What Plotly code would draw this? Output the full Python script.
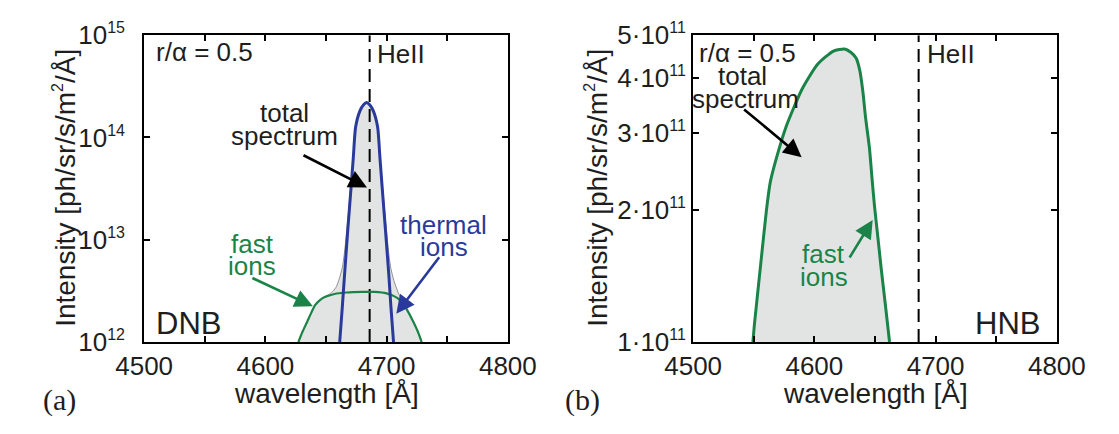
import plotly.graph_objects as go

# ---------------- data ----------------
# Panel (a) DNB
thermal_wl = [4661.3, 4663.5, 4665.3, 4668.0, 4670.6, 4672.5, 4674.4, 4678.0, 4681.0,
              4683.5, 4686.0, 4689.0, 4692.6, 4694.5, 4696.4, 4699.0, 4701.8, 4703.5, 4705.7]
thermal_I = [1.0e12, 2.24e12, 4.57e12, 1.26e13, 3.16e13, 6.3e13, 1.26e14, 1.82e14, 2.09e14,
             2.19e14, 2.09e14, 1.82e14, 1.26e14, 6.3e13, 3.16e13, 1.26e13, 4.57e12, 2.24e12, 1.0e12]

fast_wl = [4627.2, 4630.6, 4634.5, 4638.0, 4641.0, 4645.0, 4649.0, 4657.0, 4667.0,
           4680.0, 4690.0, 4700.0, 4709.0, 4714.0, 4718.0, 4722.0, 4725.8, 4728.9]
fast_I = [1.0e12, 1.26e12, 1.58e12, 1.95e12, 2.29e12, 2.57e12, 2.75e12, 2.95e12, 3.05e12,
          3.09e12, 3.09e12, 2.99e12, 2.69e12, 2.34e12, 1.95e12, 1.58e12, 1.26e12, 1.0e12]

total_wl = [4627.2, 4630.6, 4634.5, 4638.0, 4641.0, 4645.0, 4649.0, 4653.0, 4656.0, 4658.5,
            4661.0, 4663.5, 4665.3, 4668.0, 4670.6, 4672.5, 4674.4, 4678.0, 4681.0, 4683.5,
            4686.0, 4689.0, 4692.6, 4694.5, 4696.4, 4699.0, 4701.8, 4703.5, 4706.0, 4709.0,
            4712.0, 4714.0, 4718.0, 4722.0, 4725.8, 4728.9]
total_I = [1.0e12, 1.26e12, 1.58e12, 1.95e12, 2.29e12, 2.57e12, 2.79e12, 2.95e12, 3.16e12, 3.47e12,
           4.17e12, 5.37e12, 7.59e12, 1.58e13, 3.55e13, 6.76e13, 1.29e14, 1.86e14, 2.14e14, 2.21e14,
           2.14e14, 1.86e14, 1.29e14, 6.76e13, 3.55e13, 1.58e13, 7.24e12, 5.25e12, 3.98e12, 3.16e12,
           2.63e12, 2.40e12, 1.95e12, 1.58e12, 1.26e12, 1.0e12]

# Panel (b) HNB
hnb_wl = [4549.3, 4550.6, 4555.8, 4560.5, 4563.6, 4568.8, 4576.6, 4589.7, 4602.7, 4615.7,
          4625.0, 4630.0, 4634.5, 4637.5, 4640.0, 4642.2, 4645.4, 4647.6, 4649.6, 4652.2,
          4655.0, 4658.5, 4662.0]
hnb_fast_I = [1.0e11, 1.10e11, 1.51e11, 2.0e11, 2.31e11, 2.63e11, 3.09e11, 3.76e11, 4.29e11, 4.60e11,
              4.65e11, 4.57e11, 4.43e11, 4.15e11, 3.72e11, 3.25e11, 2.77e11, 2.35e11, 2.04e11, 1.75e11,
              1.48e11, 1.22e11, 1.0e11]

heii_wl = 4686.0

x_ticks = [4500, 4600, 4700, 4800]
x_minor_ticks = [4550, 4650, 4750]
dnb_yticks = [1e12, 1e13, 1e14, 1e15]
dnb_yticklabels = ["10<sup>12</sup>", "10<sup>13</sup>", "10<sup>14</sup>", "10<sup>15</sup>"]
hnb_yticks = [1e11, 2e11, 3e11, 4e11, 5e11]
hnb_yticklabels = ["1·10<sup>11</sup>", "2·10<sup>11</sup>", "3·10<sup>11</sup>",
                   "4·10<sup>11</sup>", "5·10<sup>11</sup>"]

# ---------------- styling ----------------
W, H = 1119, 434
FONT = "Liberation Sans, Arial, sans-serif"
SERIF = "Liberation Serif, DejaVu Serif, serif"
BLUE = "#2a3a9c"
GREEN = "#1a8448"
FILL = "#e2e4e4"
GREYLINE = "#8e8e8e"
TXT = "#1e1e1e"


def px(x):
    return x / W


def py(y):
    return 1 - y / H


def sup_small(lbls, size):
    return [l.replace("<sup>", "<sup><span style='font-size:%dpx'>" % size).replace("</sup>", "</span></sup>")
            for l in lbls]


fig = go.Figure()

# panel (a)
fig.add_trace(go.Scatter(x=total_wl, y=total_I, mode="lines", fill="toself", fillcolor=FILL,
                         line=dict(color=GREYLINE, width=1, shape="spline", smoothing=0.6),
                         xaxis="x", yaxis="y", showlegend=False, hoverinfo="skip"))
fig.add_trace(go.Scatter(x=[heii_wl, heii_wl], y=[dnb_yticks[0], dnb_yticks[-1]], mode="lines",
                         line=dict(color="black", width=2, dash="13px,7px"),
                         xaxis="x", yaxis="y", showlegend=False))
fig.add_trace(go.Scatter(x=fast_wl, y=fast_I, mode="lines",
                         line=dict(color=GREEN, width=2.2, shape="spline", smoothing=0.6),
                         xaxis="x", yaxis="y", showlegend=False))
fig.add_trace(go.Scatter(x=thermal_wl, y=thermal_I, mode="lines",
                         line=dict(color=BLUE, width=3, shape="spline", smoothing=0.6),
                         xaxis="x", yaxis="y", showlegend=False))

# panel (b)
fig.add_trace(go.Scatter(x=hnb_wl, y=hnb_fast_I, mode="lines", fill="toself", fillcolor=FILL,
                         line=dict(color=GREEN, width=0, shape="spline", smoothing=0.6),
                         xaxis="x2", yaxis="y2", showlegend=False, hoverinfo="skip"))
fig.add_trace(go.Scatter(x=[heii_wl, heii_wl], y=[hnb_yticks[0], hnb_yticks[-1]], mode="lines",
                         line=dict(color="black", width=2, dash="13px,7px"),
                         xaxis="x2", yaxis="y2", showlegend=False))
fig.add_trace(go.Scatter(x=hnb_wl, y=hnb_fast_I, mode="lines",
                         line=dict(color=GREEN, width=3, shape="spline", smoothing=0.6),
                         xaxis="x2", yaxis="y2", showlegend=False))

ydom = [py(342.5), py(12)]
axis_common = dict(showline=True, linewidth=2, linecolor="black", mirror="ticks",
                   ticks="inside", ticklen=6, tickwidth=1.5, tickcolor="black",
                   showgrid=False, zeroline=False, ticklabeloverflow="allow",
                   tickfont=dict(family=FONT, size=26, color=TXT))

xax = dict(axis_common, range=[4500, 4800], tickvals=x_ticks,
           minor=dict(tickvals=x_minor_ticks, ticks="inside", ticklen=6, tickwidth=1.5,
                      tickcolor="black", showgrid=False),
           ticklabelstandoff=0)

fig.update_layout(
    width=W, height=H, autosize=False,
    margin=dict(l=0, r=0, t=0, b=0),
    paper_bgcolor="white", plot_bgcolor="white",
    xaxis=dict(xax, domain=[px(113), px(496.6)], anchor="y"),
    yaxis=dict(axis_common, type="log", range=[12, 15], domain=ydom, anchor="x",
               tickvals=dnb_yticks, ticktext=sup_small(dnb_yticklabels, 16), ticklabelstandoff=12),
    xaxis2=dict(xax, domain=[px(692), px(1075.6)], anchor="y2"),
    yaxis2=dict(axis_common, type="log", range=[11, 11.69897], domain=ydom, anchor="x2",
                tickvals=hnb_yticks, ticktext=sup_small(hnb_yticklabels, 16), ticklabelstandoff=0),
)

ann = []


def text(x, y, s, size=26, color=TXT, xanchor="center", family=FONT, angle=0):
    ann.append(dict(x=px(x), y=py(y), xref="paper", yref="paper", text=s, showarrow=False,
                    xanchor=xanchor, yanchor="middle", textangle=angle,
                    font=dict(family=family, size=size, color=color)))


def arrow(xref, yref, x, logy, ax, ay, color):
    ann.append(dict(x=x, y=logy, xref=xref, yref=yref, text="", showarrow=True,
                    ax=ax, ay=ay, axref="pixel", ayref="pixel",
                    arrowhead=2, arrowsize=1.4, arrowwidth=2.6, arrowcolor=color, standoff=0))


YT = "Intensity [ph/sr/s/m<sup><span style='font-size:16px'>2</span></sup>/Å]"

# panel (a) texts
text(123, 30, "r/α = 0.5", xanchor="left")
text(357, 32, "HeII", xanchor="left")
text(261, 96, "total")
text(261, 121, "spectrum")
text(227, 237, "fast", color=GREEN)
text(227, 261, "ions", color=GREEN)
text(429, 216, "thermal", color=BLUE)
text(429, 240, "ions", color=BLUE)
text(123, 323, "DNB", size=31, xanchor="left")
text(24, 405, "(a)", size=30, family=SERIF)
text(305, 398, "wavelength [Å]", size=28)
text(30, 176, YT, size=28, angle=-90)
arrow("x", "y", 4683.8, 13.511, -65, -33, "black")
arrow("x", "y", 4639.2, 12.349, -62, -29, GREEN)
arrow("x", "y", 4708.0, 12.277, 44, -58, BLUE)

# panel (b) texts
text(696, 31, "r/α = 0.5", xanchor="left")
text(744, 56, "total")
text(747, 81, "spectrum")
text(937, 32, "HeII", xanchor="left")
text(830, 248, "fast", color=GREEN)
text(830, 272, "ions", color=GREEN)
text(1060, 323, "HNB", size=31, xanchor="right")
text(575, 405, "(b)", size=30, family=SERIF)
text(884, 398, "wavelength [Å]", size=28)
text(591, 176, YT, size=28, angle=-90)
arrow("x2", "y2", 4589.5, 11.421, -59, -49, "black")
arrow("x2", "y2", 4648.1, 11.278, -24, 39, GREEN)

fig.update_layout(annotations=ann)
fig.write_html("out.html")
